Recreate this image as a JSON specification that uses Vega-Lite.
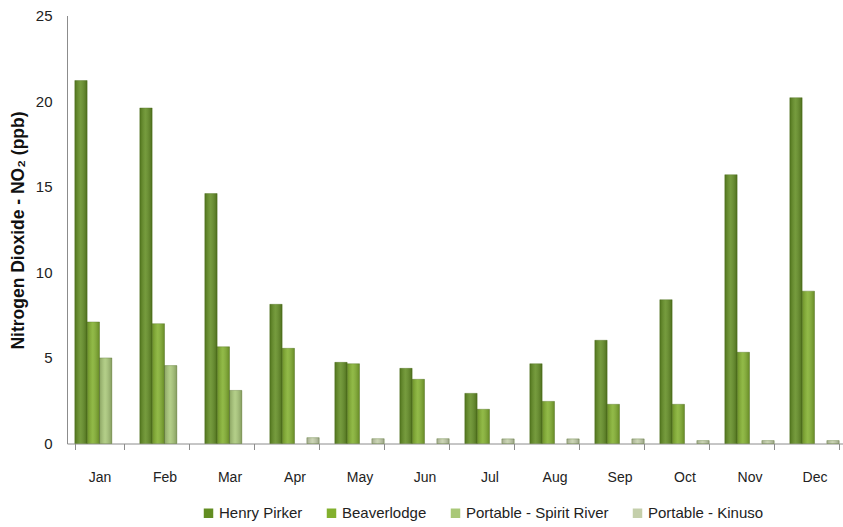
{
  "$schema": "https://vega.github.io/schema/vega-lite/v6.json",
  "width": 780,
  "height": 428,
  "autosize": {"type": "none"},
  "padding": {"left": 67, "top": 15.5, "right": 0, "bottom": 84},
  "background": "white",
  "config": {
    "view": {"stroke": null},
    "font": "Liberation Sans, sans-serif"
  },
  "data": {
    "values": [
      {"month": "Jan", "station": "Henry Pirker", "no2": 21.2},
      {"month": "Jan", "station": "Beaverlodge", "no2": 7.1},
      {"month": "Jan", "station": "Portable - Spirit River", "no2": 5.0},
      {"month": "Feb", "station": "Henry Pirker", "no2": 19.6},
      {"month": "Feb", "station": "Beaverlodge", "no2": 7.0},
      {"month": "Feb", "station": "Portable - Spirit River", "no2": 4.55},
      {"month": "Mar", "station": "Henry Pirker", "no2": 14.6},
      {"month": "Mar", "station": "Beaverlodge", "no2": 5.65},
      {"month": "Mar", "station": "Portable - Spirit River", "no2": 3.1},
      {"month": "Apr", "station": "Henry Pirker", "no2": 8.13},
      {"month": "Apr", "station": "Beaverlodge", "no2": 5.56},
      {"month": "Apr", "station": "Portable - Kinuso", "no2": 0.34},
      {"month": "May", "station": "Henry Pirker", "no2": 4.74},
      {"month": "May", "station": "Beaverlodge", "no2": 4.66},
      {"month": "May", "station": "Portable - Kinuso", "no2": 0.28},
      {"month": "Jun", "station": "Henry Pirker", "no2": 4.39},
      {"month": "Jun", "station": "Beaverlodge", "no2": 3.75},
      {"month": "Jun", "station": "Portable - Kinuso", "no2": 0.28},
      {"month": "Jul", "station": "Henry Pirker", "no2": 2.93},
      {"month": "Jul", "station": "Beaverlodge", "no2": 2.0},
      {"month": "Jul", "station": "Portable - Kinuso", "no2": 0.27},
      {"month": "Aug", "station": "Henry Pirker", "no2": 4.66},
      {"month": "Aug", "station": "Beaverlodge", "no2": 2.46},
      {"month": "Aug", "station": "Portable - Kinuso", "no2": 0.27},
      {"month": "Sep", "station": "Henry Pirker", "no2": 6.03},
      {"month": "Sep", "station": "Beaverlodge", "no2": 2.29},
      {"month": "Sep", "station": "Portable - Kinuso", "no2": 0.27},
      {"month": "Oct", "station": "Henry Pirker", "no2": 8.4},
      {"month": "Oct", "station": "Beaverlodge", "no2": 2.29},
      {"month": "Oct", "station": "Portable - Kinuso", "no2": 0.17},
      {"month": "Nov", "station": "Henry Pirker", "no2": 15.7},
      {"month": "Nov", "station": "Beaverlodge", "no2": 5.33},
      {"month": "Nov", "station": "Portable - Kinuso", "no2": 0.17},
      {"month": "Dec", "station": "Henry Pirker", "no2": 20.2},
      {"month": "Dec", "station": "Beaverlodge", "no2": 8.9},
      {"month": "Dec", "station": "Portable - Kinuso", "no2": 0.17}
    ]
  },
  "encoding": {
    "x": {
      "field": "month",
      "type": "nominal",
      "sort": ["Jan", "Feb", "Mar", "Apr", "May", "Jun", "Jul", "Aug", "Sep", "Oct", "Nov", "Dec"],
      "scale": {"paddingInner": 0.24, "paddingOuter": 0.12},
      "axis": {
        "title": null,
        "labelAngle": 0,
        "labelFontSize": 14,
        "labelColor": "#222",
        "labelPadding": 21,
        "tickBand": "extent",
        "tickSize": 6,
        "tickColor": "#8c8c8c",
        "domainColor": "#8c8c8c",
        "domainWidth": 1
      }
    },
    "xOffset": {
      "field": "station",
      "type": "nominal",
      "sort": ["Henry Pirker", "Beaverlodge", "Portable - Spirit River", "Portable - Kinuso"],
      "scale": {"paddingInner": 0}
    },
    "y": {
      "field": "no2",
      "type": "quantitative",
      "scale": {"domain": [0, 25], "nice": false},
      "axis": {
        "values": [0, 5, 10, 15, 20, 25],
        "grid": false,
        "ticks": false,
        "labelFontSize": 15,
        "labelColor": "#222",
        "labelPadding": 15,
        "domainColor": "#8c8c8c",
        "title": "Nitrogen Dioxide - NO₂ (ppb)",
        "titleFontSize": 17.5,
        "titleFontWeight": "bold",
        "titleColor": "#111",
        "titleX": -48.5,
        "titleY": 214.5,
        "titleBaseline": "middle",
        "titleAngle": -90
      }
    }
  },
  "layer": [
    {
      "mark": {"type": "bar", "stroke": "#4a6b17", "strokeWidth": 0.6, "strokeOpacity": 0.6},
      "encoding": {
        "color": {
          "field": "station",
          "type": "nominal",
          "sort": ["Henry Pirker", "Beaverlodge", "Portable - Spirit River", "Portable - Kinuso"],
          "scale": {
            "domain": ["Henry Pirker", "Beaverlodge", "Portable - Spirit River", "Portable - Kinuso"],
            "range": ["#628d22", "#82b02e", "#a9c878", "#c4cfab"]
          },
          "legend": {
            "title": null,
            "orient": "none",
            "direction": "horizontal",
            "legendX": 134,
            "legendY": 490,
            "symbolType": "square",
            "symbolSize": 90,
            "symbolStrokeWidth": 0,
            "labelFontSize": 15,
            "labelColor": "#222",
            "columnPadding": 21,
            "labelOffset": 3
          }
        }
      }
    },
    {
      "mark": {
        "type": "bar",
        "fill": {
          "gradient": "linear",
          "x1": 0, "y1": 0, "x2": 1, "y2": 0,
          "stops": [
            {"offset": 0, "color": "rgba(0,0,0,0.18)"},
            {"offset": 0.45, "color": "rgba(255,255,255,0.12)"},
            {"offset": 1, "color": "rgba(0,0,0,0.22)"}
          ]
        }
      }
    }
  ]
}
